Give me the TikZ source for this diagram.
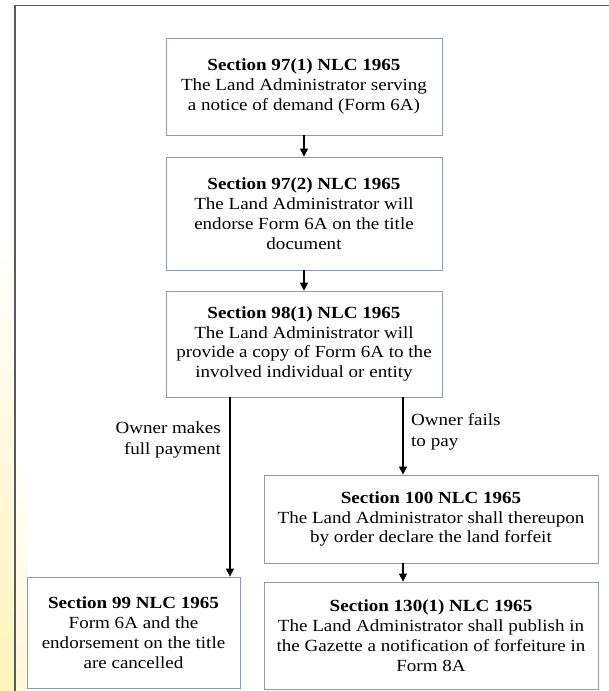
\documentclass[tikz,border=0pt]{standalone}
\usepackage{fontspec}
\setmainfont{Liberation Serif}[FakeStretch=1.12]
\usetikzlibrary{arrows.meta}
\definecolor{boxline}{HTML}{8C9AB3}
\definecolor{frameline}{HTML}{5A5A5A}
\definecolor{paleyel}{HTML}{FFF3B8}
\begin{document}
\begin{tikzpicture}[x=1pt,y=-1pt,
  stepbox/.style={draw=boxline, line width=0.8pt, fill=white, align=center, inner sep=0pt,
    font=\fontsize{17}{19.8}\selectfont},
  arr/.style={-{Triangle[length=8pt,width=8pt]}, line width=1.2pt},
  lbl/.style={font=\fontsize{17}{21.5}\selectfont, inner sep=0pt}]
\useasboundingbox (0,0) rectangle (609,691);
% background and left gradient strip
\fill[white] (0,0) rectangle (609,691);
\shade[top color=white, bottom color=paleyel] (0,240) rectangle (15,691);
\shade[top color=white, bottom color=paleyel!60] (15,450) rectangle (28,691);
% outer frame
\draw[frameline, line width=1.3pt] (15,700) -- (15,5.5) -- (620,5.5);
% boxes
\node[stepbox, minimum width=276pt, minimum height=97pt] (b1) at (304,86.5)
  {\textbf{Section 97(1) NLC 1965}\\The Land Administrator serving\\a notice of demand (Form 6A)};
\node[stepbox, minimum width=276pt, minimum height=113pt] (b2) at (304,213.5)
  {\textbf{Section 97(2) NLC 1965}\\The Land Administrator will\\endorse Form 6A on the title\\document};
\node[stepbox, minimum width=276pt, minimum height=106pt] (b3) at (304,344)
  {\textbf{Section 98(1) NLC 1965}\\The Land Administrator will\\provide a copy of Form 6A to the\\involved individual or entity};
\node[stepbox, minimum width=213pt, minimum height=111pt] (b99) at (133.5,632.5)
  {\textbf{Section 99 NLC 1965}\\Form 6A and the\\endorsement on the title\\are cancelled};
\node[stepbox, minimum width=334pt, minimum height=88pt] (b100) at (431,519)
  {\textbf{Section 100 NLC 1965}\\The Land Administrator shall thereupon\\by order declare the land forfeit};
\node[stepbox, minimum width=334pt, minimum height=107pt] (b130) at (431,635.5)
  {\textbf{Section 130(1) NLC 1965}\\The Land Administrator shall publish in\\the Gazette a notification of forfeiture in\\Form 8A};
% connector x positions
\coordinate (lx) at (230,0);
\coordinate (rx) at (403,0);
% arrows
\draw[arr] (b1) -- (b2);
\draw[arr] (b2) -- (b3);
\draw[arr] (b3.south -| lx) -- (b99.north -| lx);
\draw[arr] (b3.south -| rx) -- (b100.north -| rx);
\draw[arr] (b100.south -| rx) -- (b130.north -| rx);
% labels
\node[lbl, anchor=east, align=right] (l1) at (221,440) {Owner makes\\full payment};
\node[lbl, anchor=west, align=left] (l2) at (411,432) {Owner fails\\to pay};
\end{tikzpicture}
\end{document}
